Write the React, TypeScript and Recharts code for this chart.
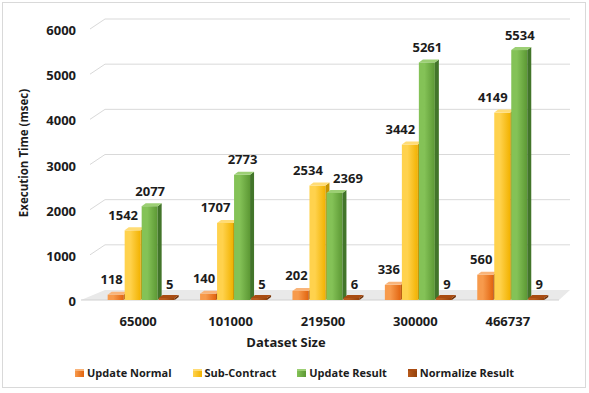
import React from 'react';
import { BarChart, Bar, XAxis, YAxis, CartesianGrid, LabelList } from 'recharts';

const categories = ['65000', '101000', '219500', '300000', '466737'];
const updateNormal = [118, 140, 202, 336, 560];
const subContract = [1542, 1707, 2534, 3442, 4149];
const updateResult = [2077, 2773, 2369, 5261, 5534];
const normalizeResult = [5, 5, 6, 9, 9];
const yTicks = [0, 1000, 2000, 3000, 4000, 5000, 6000];

const FONT = '"Open Sans", "DejaVu Sans", sans-serif';
const TEXT = '#1c1c1c';
const GRID = '#d9d9d9';

// palette for the fake 3D columns
const SERIES = [
  { key: 'updateNormal', name: 'Update Normal', light: '#f79a4c', dark: '#e2640f', side: '#b04e0b', top: '#f9b47a' },
  { key: 'subContract', name: 'Sub-Contract', light: '#ffd24d', dark: '#f2b200', side: '#c69300', top: '#ffdc75' },
  { key: 'updateResult', name: 'Update Result', light: '#84c257', dark: '#5c9834', side: '#42752a', top: '#9ccf74' },
  { key: 'normalizeResult', name: 'Normalize Result', light: '#b85a1c', dark: '#94420c', side: '#6e3007', top: '#a94c12' },
];

const data = categories.map((c, i) => ({
  name: c,
  updateNormal: updateNormal[i],
  subContract: subContract[i],
  updateResult: updateResult[i],
  normalizeResult: normalizeResult[i],
}));

const DX = 4;
const DY = 3;

function makeBar(s: typeof SERIES[number]) {
  return (props: any) => {
    const { x, y, width, height } = props;
    const w = width - 1;
    const h = Math.max(height, 2);
    const top = y + height - h;
    return (
      <g>
        <rect x={x} y={top} width={w} height={h} fill={`url(#g-${s.key})`} />
        <polygon
          points={`${x + w},${top} ${x + w + DX},${top - DY} ${x + w + DX},${top + h - DY} ${x + w},${top + h}`}
          fill={s.side}
        />
        <polygon
          points={`${x},${top} ${x + w},${top} ${x + w + DX},${top - DY} ${x + DX},${top - DY}`}
          fill={s.top}
        />
      </g>
    );
  };
}

// Excel nudges some labels sideways so they don't collide
function labelDx(key: string, i: number) {
  if (key === 'updateNormal') return -4.5;
  if (key === 'subContract') return -10;
  if (key === 'updateResult') return Math.abs(updateResult[i] - subContract[i]) < 400 ? 13 : 0;
  return 2.5;
}

function makeLabel(key: string) {
  return (props: any) => {
    const { x, y, width, value, index } = props;
    return (
      <text
        x={x + width / 2 + labelDx(key, index)}
        y={y - 10.5}
        textAnchor="middle"
        fontFamily={FONT}
        fontWeight={700}
        fontSize={13}
        fill={TEXT}
      >
        {value}
      </text>
    );
  };
}

function gridLine(p: any) {
  const { x1, x2, y1 } = p;
  const isFloor = Math.abs(y1 - (p.y + p.height)) < 1;
  if (isFloor) {
    return (
      <g key={p.key}>
        <polygon
          points={`${x1 - 14},${y1} ${x2 + 2},${y1} ${x2 + 13},${y1 - 10} ${x1 + 10},${y1 - 10}`}
          fill="#e9e9e9"
        />
        <line x1={x1 - 14} y1={y1} x2={x2 + 2} y2={y1} stroke="#d0d0d0" />
      </g>
    );
  }
  return (
    <polyline
      key={p.key}
      points={`${x1 - 5},${y1} ${x1 + 10},${y1 - 10} ${x2 + 13},${y1 - 10}`}
      fill="none"
      stroke={GRID}
      strokeWidth={1}
    />
  );
}

function YTick({ x, y, payload }: any) {
  return (
    <text x={x - 11} y={y + 6} textAnchor="end" fontFamily={FONT} fontWeight={700} fontSize={13} fill={TEXT}>
      {payload.value}
    </text>
  );
}

function XTick({ x, y, payload }: any) {
  return (
    <text x={x - 3} y={y + 18} textAnchor="middle" fontFamily={FONT} fontWeight={700} fontSize={13} fill={TEXT}>
      {payload.value}
    </text>
  );
}

export default function App() {
  return (
    <div style={{ position: 'absolute', left: 0, top: 0, width: 589, height: 393, background: '#fff', fontFamily: FONT }}>
      <div
        style={{
          position: 'absolute', left: 2, top: 2, width: 584, height: 386,
          border: '1px solid #d9d9d9', boxSizing: 'border-box',
        }}
      />
      <div style={{ position: 'absolute', left: 0, top: 0 }}>
        <BarChart
          width={589}
          height={393}
          data={data}
          margin={{ top: 29, right: 32, bottom: 63, left: 0 }}
          barCategoryGap="13.7%"
          barGap={0}
        >
          <defs>
            {SERIES.map(s => (
              <linearGradient key={s.key} id={`g-${s.key}`} x1="0" y1="0" x2="1" y2="0">
                <stop offset="0%" stopColor={s.light} />
                <stop offset="35%" stopColor={s.light} />
                <stop offset="100%" stopColor={s.dark} />
              </linearGradient>
            ))}
          </defs>
          <CartesianGrid vertical={false} horizontal={gridLine} stroke={GRID} />
          <XAxis dataKey="name" axisLine={false} tickLine={false} height={30} tick={<XTick />} interval={0} />
          <YAxis
            domain={[0, 6000]}
            ticks={yTicks}
            axisLine={false}
            tickLine={false}
            width={95}
            tick={<YTick />}
            interval={0}
          />
          {SERIES.map(s => (
            <Bar key={s.key} dataKey={s.key} name={s.name} shape={makeBar(s)} isAnimationActive={false}>
              <LabelList dataKey={s.key} content={makeLabel(s.key)} />
            </Bar>
          ))}
        </BarChart>
      </div>

      {/* axis titles */}
      <div
        style={{
          position: 'absolute', left: -56, top: 145, width: 160, height: 16, lineHeight: '16px',
          transform: 'rotate(-90deg)', textAlign: 'center', fontSize: 11.5, fontWeight: 700, color: TEXT,
        }}
      >
        Execution Time (msec)
      </div>
      <div
        style={{
          position: 'absolute', left: 236, top: 334, width: 100, lineHeight: '16px',
          textAlign: 'center', fontSize: 13, fontWeight: 700, color: TEXT,
        }}
      >
        Dataset Size
      </div>

      {/* legend */}
      <div
        style={{
          position: 'absolute', left: 75, top: 365, display: 'flex', gap: 21,
          fontSize: 11, fontWeight: 700, color: TEXT, lineHeight: '16px', alignItems: 'center',
        }}
      >
        {SERIES.map(s => (
          <div key={s.key} style={{ display: 'flex', alignItems: 'center' }}>
            <span
              style={{
                display: 'inline-block', width: 9, height: 8, marginRight: 3,
                background: `linear-gradient(90deg, ${s.light}, ${s.dark})`,
                borderTop: `2px solid ${s.top}`, boxSizing: 'border-box',
              }}
            />
            {s.name}
          </div>
        ))}
      </div>
    </div>
  );
}
